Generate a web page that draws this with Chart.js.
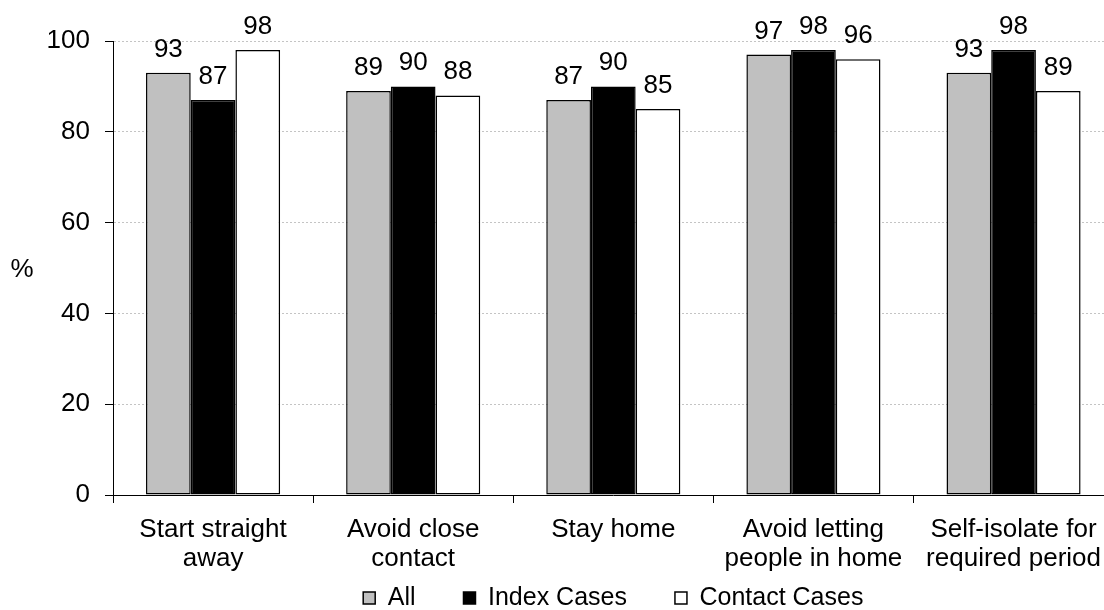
<!DOCTYPE html>
<html>
<head>
<meta charset="utf-8">
<script src="https://cdn.jsdelivr.net/npm/chart.js@4/dist/chart.umd.min.js"></script>
<style>
  html, body { margin: 0; padding: 0; background: #fff; overflow: hidden; }
  #wrap { width: 1114px; height: 610px; }
</style>
</head>
<body>
<div id="wrap"><canvas id="chartAdherence" width="1114" height="610"></canvas></div>
<script>
// values
var categories = [
    ['Start straight', 'away'],
    ['Avoid close', 'contact'],
    'Stay home',
    ['Avoid letting', 'people in home'],
    ['Self-isolate for', 'required period']
];
var allValues = [93, 89, 87, 97, 93];
var indexValues = [87, 90, 90, 98, 98];
var contactValues = [98, 88, 85, 96, 89];
var yTicks = [0, 20, 40, 60, 80, 100];

var fontFamily = "'Liberation Sans', Arial, sans-serif";
Chart.defaults.font.family = fontFamily;
Chart.defaults.color = '#000';

// value labels on top of each bar
var barLabels = {
    id: 'barLabels',
    afterDatasetsDraw: function (chart) {
        var ctx = chart.ctx;
        ctx.save();
        ctx.font = '26px ' + fontFamily;
        ctx.fillStyle = '#000';
        ctx.textAlign = 'center';
        ctx.textBaseline = 'alphabetic';
        chart.data.datasets.forEach(function (ds, i) {
            var meta = chart.getDatasetMeta(i);
            meta.data.forEach(function (bar, j) {
                ctx.fillText(ds.data[j], bar.x, bar.y - 16);
            });
        });
        ctx.restore();
    }
};

// horizontal "%" axis title
var percentTitle = {
    id: 'percentTitle',
    afterDraw: function (chart) {
        var ctx = chart.ctx;
        var area = chart.chartArea;
        ctx.save();
        ctx.font = '26px ' + fontFamily;
        ctx.fillStyle = '#000';
        ctx.textAlign = 'center';
        ctx.textBaseline = 'middle';
        ctx.fillText('%', 22, (area.top + area.bottom) / 2 + 2);
        ctx.restore();
    }
};

var ctx = document.getElementById('chartAdherence');

var dataChart = {
    labels: categories,
    datasets: [
        {
            label: 'All',
            data: allValues,
            backgroundColor: '#c0c0c0',
            borderColor: '#000',
            borderWidth: 1.5,
            borderSkipped: false
        },
        {
            label: 'Index Cases',
            data: indexValues,
            backgroundColor: '#000',
            borderColor: '#000',
            borderWidth: 1.5,
            borderSkipped: false
        },
        {
            label: 'Contact Cases',
            data: contactValues,
            backgroundColor: '#fff',
            borderColor: '#000',
            borderWidth: 1.5,
            borderSkipped: false
        }
    ]
};

var myBarChart = new Chart(ctx, {
    type: 'bar',
    data: dataChart,
    plugins: [barLabels, percentTitle],
    options: {
        responsive: false,
        animation: false,
        datasets: {
            bar: { categoryPercentage: 0.67, barPercentage: 1.0 }
        },
        layout: {
            padding: { top: 41, right: 0, left: 0, bottom: -10.5 }
        },
        plugins: {
            tooltip: { enabled: false },
            legend: {
                position: 'bottom',
                fullSize: false,
                // empty title with negative padding pulls the row up,
                // so the wide item spacing does not push it off the canvas
                title: {
                    display: true,
                    text: ' ',
                    font: { size: 10, lineHeight: 1.2 },
                    padding: { top: 0, bottom: -49.5 }
                },
                labels: {
                    boxWidth: 12,
                    boxHeight: 12,
                    padding: 48,
                    color: '#000',
                    font: { size: 25 }
                }
            }
        },
        scales: {
            x: {
                grid: {
                    display: true,
                    drawOnChartArea: false,
                    offset: true,
                    tickLength: 8,
                    color: '#000',
                    tickColor: '#000'
                },
                border: { color: '#000', width: 1 },
                ticks: {
                    padding: 13,
                    maxRotation: 0,
                    autoSkip: false,
                    font: { size: 26, lineHeight: 1.1 }
                },
                afterFit: function (scale) { scale.height = 80; }
            },
            y: {
                min: 0,
                max: 100,
                afterBuildTicks: function (scale) {
                    scale.ticks = yTicks.map(function (v) { return { value: v }; });
                },
                grid: {
                    color: '#c4c4c4',
                    tickColor: '#000',
                    tickLength: 8,
                    tickBorderDash: [],
                    lineWidth: 1
                },
                border: { color: '#000', width: 1, dash: [2, 2] },
                ticks: {
                    padding: 15,
                    font: { size: 26 }
                },
                afterFit: function (scale) { scale.width = 113; }
            }
        }
    }
});
</script>
</body>
</html>
